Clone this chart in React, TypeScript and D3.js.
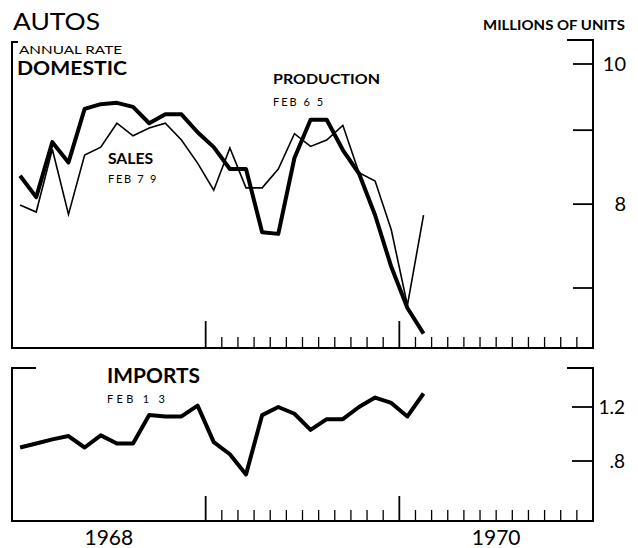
import React from "react";
import * as d3 from "d3";

// Monthly data, Jan 1968 .. Feb 1970 (millions of units, annual rate)
const production = [8.37, 8.09, 8.83, 8.55, 9.31, 9.38, 9.40, 9.34, 9.10, 9.23, 9.23, 8.97, 8.76, 8.46, 8.46, 7.65, 7.63, 8.61, 9.15, 9.15, 8.72, 8.40, 7.86, 7.24, 6.78, 6.51];
const sales = [7.99, 7.90, 8.73, 7.87, 8.65, 8.76, 9.10, 8.92, 9.03, 9.10, 8.86, 8.54, 8.18, 8.75, 8.21, 8.21, 8.46, 8.95, 8.77, 8.86, 9.07, 8.41, 8.30, 7.68, 6.81, 7.86];
const imports = [0.90, 0.93, 0.96, 0.985, 0.90, 0.99, 0.93, 0.93, 1.14, 1.13, 1.13, 1.21, 0.94, 0.85, 0.70, 1.14, 1.20, 1.15, 1.03, 1.11, 1.11, 1.20, 1.27, 1.23, 1.13, 1.30];

const domesticTicks = [7, 8, 9, 10];
const domesticTickLabels = ["", "8", "", "10"];
const importTicks = [0.8, 1.2];
const importTickLabels = [".8", "1.2"];
const years = ["1968", "1969", "1970"];
const yearLabels = ["1968", "", "1970"];

const FONT = "Lato, 'DejaVu Sans', sans-serif";

export default function App() {
  const W = 638, H = 548;
  const x = d3.scaleLinear().domain([0, 36]).range([12, 593]);
  const yTop = d3.scaleLog().domain([7, 10]).range([288, 64]);
  const yBot = d3.scaleLinear().domain([0.8, 1.2]).range([461, 407]);

  const lineTop = d3.line<number>().x((_, i) => x(i + 0.5)).y((d) => yTop(d));
  const lineBot = d3.line<number>().x((_, i) => x(i + 0.5)).y((d) => yBot(d));

  const topBase = 348;
  const botBase = 521;
  const months = d3.range(12, 36);

  const xTicks = (base: number, major: number, minor: number) =>
    months.map((m) => (
      <line key={m} x1={x(m)} x2={x(m)} y1={base} y2={base - (m % 12 === 0 ? major : minor)} stroke="#000" strokeWidth={m % 12 === 0 ? 1.8 : 1.3} />
    ));

  return (
    <svg width={W} height={H} style={{ position: "absolute", left: 0, top: 0, background: "#fff" }} fontFamily={FONT}>
      <rect width={W} height={H} fill="#fff" />
      <g stroke="#000" strokeWidth={2} fill="none">
        <path d={`M18,42 H12 V${topBase} H593 V40 H567`} />
        <path d={`M12,367 V${botBase} H593 V368 H567`} />
        <path d={`M12,368 H36`} />
      </g>
      {domesticTicks.map((t) => (
        <line key={t} x1={573} x2={593} y1={yTop(t)} y2={yTop(t)} stroke="#000" strokeWidth={1.8} />
      ))}
      {domesticTicks.map((t, i) => (
        <text key={"l" + t} x={626} y={yTop(t) + 7} fontSize={20} textAnchor="end">{domesticTickLabels[i]}</text>
      ))}
      {importTicks.map((t) => (
        <line key={t} x1={572} x2={593} y1={yBot(t)} y2={yBot(t)} stroke="#000" strokeWidth={1.8} />
      ))}
      {importTicks.map((t, i) => (
        <text key={"l" + t} x={625} y={yBot(t) + 7} fontSize={19} textAnchor="end">{importTickLabels[i]}</text>
      ))}
      {xTicks(topBase, 27, 11)}
      {xTicks(botBase, 25, 11)}

      <path d={lineTop(sales) || ""} fill="none" stroke="#000" strokeWidth={1.6} strokeLinejoin="miter" />
      <path d={lineTop(production) || ""} fill="none" stroke="#000" strokeWidth={4} strokeLinejoin="round" />
      <path d={lineBot(imports) || ""} fill="none" stroke="#000" strokeWidth={4} strokeLinejoin="round" />

      <text x={13} y={30} fontSize={24} textLength={87} lengthAdjust="spacingAndGlyphs">AUTOS</text>
      <text x={19} y={54} fontSize={11} textLength={103} lengthAdjust="spacingAndGlyphs">ANNUAL RATE</text>
      <text x={17} y={75} fontSize={18.5} fontWeight="bold" textLength={110} lengthAdjust="spacingAndGlyphs">DOMESTIC</text>
      <text x={273} y={84} fontSize={14} fontWeight="bold" textLength={107} lengthAdjust="spacingAndGlyphs">PRODUCTION</text>
      <text x={273} y={106} fontSize={11} letterSpacing={2}>FEB 6 5</text>
      <text x={108} y={164} fontSize={15} fontWeight="bold" textLength={45} lengthAdjust="spacingAndGlyphs">SALES</text>
      <text x={108} y={183} fontSize={11} letterSpacing={1.7}>FEB 7 9</text>
      <text x={483} y={30} fontSize={13} fontWeight="bold" textLength={142} lengthAdjust="spacingAndGlyphs">MILLIONS OF UNITS</text>
      <text x={107} y={383} fontSize={20} fontWeight="bold" textLength={93} lengthAdjust="spacingAndGlyphs">IMPORTS</text>
      <text x={107} y={403} fontSize={11} letterSpacing={3.3}>FEB 1 3</text>
      {years.map((yr, i) => (
        <text key={yr} x={x(i * 12 + 6)} y={545} fontSize={21} textAnchor="middle">{yearLabels[i]}</text>
      ))}
    </svg>
  );
}
